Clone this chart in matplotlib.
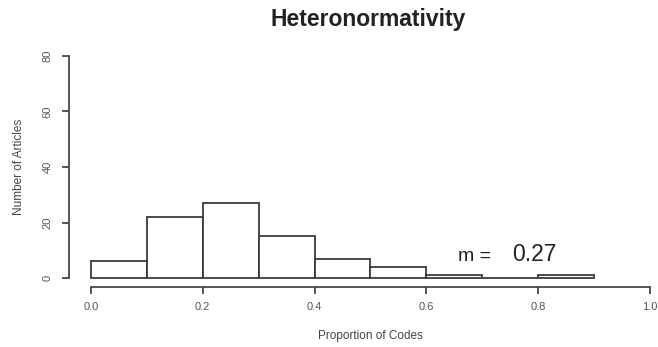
import numpy as np
import matplotlib
matplotlib.use("Agg")
import matplotlib.pyplot as plt

plt.rcParams['font.family'] = ['Liberation Sans', 'DejaVu Sans']

# Histogram bins (proportion of codes) and article counts per bin
bin_edges = [0.0, 0.1, 0.2, 0.3, 0.4, 0.5, 0.6, 0.7, 0.8, 0.9]
counts = [6, 22, 27, 15, 7, 4, 1, 0, 1]
x_ticks = [0.0, 0.2, 0.4, 0.6, 0.8, 1.0]
y_ticks = [0, 20, 40, 60, 80]
mean_label = "0.27"

W, H = 658, 347
fig = plt.figure(figsize=(W / 100, H / 100), dpi=100)
fig.patch.set_facecolor('white')

left_px, right_px = 68.6, 658
top_px, bot_px = 47, 287
ax = fig.add_axes([left_px / W, 1 - bot_px / H, (right_px - left_px) / W, (bot_px - top_px) / H])
ax.set_xlim(-0.04, -0.04 + (right_px - left_px) / 559)
ax.set_ylim(-3.2, 83.2)

line_c = '#3a3a3a'
edges = np.array(bin_edges)
ax.bar(edges[:-1], counts, width=np.diff(edges), align='edge',
       facecolor='white', edgecolor=line_c, linewidth=1.3)

for s in ['top', 'right']:
    ax.spines[s].set_visible(False)
ax.spines['left'].set_bounds(0, 80)
ax.spines['bottom'].set_bounds(0, 1.0)
for s in ['left', 'bottom']:
    ax.spines[s].set_color(line_c)
    ax.spines[s].set_linewidth(1.2)

ax.set_xticks(x_ticks)
ax.set_xticklabels([f"{v:.1f}" for v in x_ticks])
ax.set_yticks(y_ticks)
ax.set_yticklabels([str(v) for v in y_ticks], rotation=90, va='center')
ax.tick_params(axis='both', length=5, width=1.2, color=line_c,
               labelsize=8, labelcolor='#555555')
ax.tick_params(axis='x', pad=5.5)
ax.tick_params(axis='y', pad=6.5)

ax.set_xlabel("Proportion of Codes", fontsize=8.5, color='#444444')
ax.xaxis.set_label_coords((370 - left_px) / (right_px - left_px), -(330 - bot_px) / (bot_px - top_px))
ax.set_ylabel("Number of Articles", fontsize=8.5, color='#444444')
ax.yaxis.set_label_coords(-(left_px - 25) / (right_px - left_px), (bot_px - 167) / (bot_px - top_px))

fig.text(368 / W, 1 - 26 / H, "Heteronormativity", ha='center', va='baseline',
         fontsize=16.5, fontweight='bold', color='#222222')

ax.text(0.6565, 6.2, "m =", fontsize=14, color='#222222', va='baseline', ha='left')
ax.text(0.753, 6.2, mean_label, fontsize=16.5, color='#222222', va='baseline', ha='left')

fig.savefig("out.png", dpi=100, facecolor='white')
